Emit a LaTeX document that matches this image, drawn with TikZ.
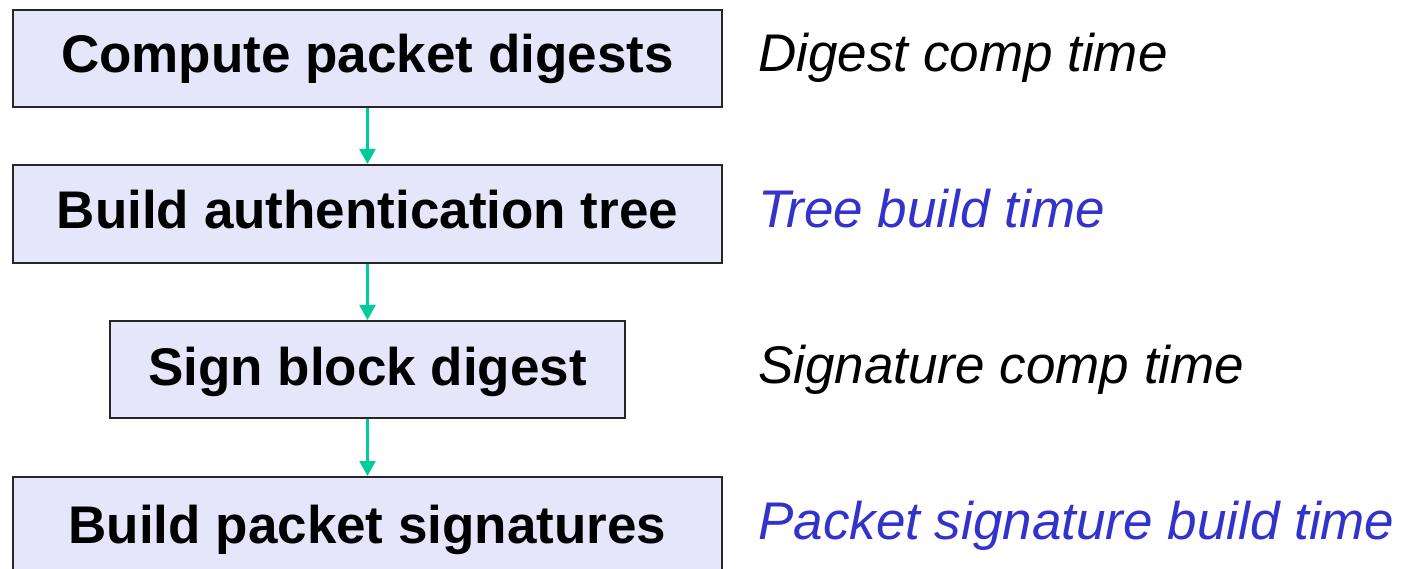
\documentclass[tikz,border=0pt]{standalone}
\usepackage{fontspec}
\setmainfont{Liberation Sans}
\usetikzlibrary{arrows.meta}
\definecolor{boxfill}{HTML}{E6E6FA}
\definecolor{arrowc}{HTML}{00CC99}
\definecolor{bluetxt}{HTML}{3333CC}
\tikzset{
  stepbox/.style={draw=black!85, line width=2pt, fill=boxfill, font=\fontsize{53}{53}\selectfont\bfseries, anchor=north west, inner xsep=0pt, inner ysep=0pt, align=center, text height=64pt, text depth=34pt},
  timelabel/.style={anchor=base west, font=\fontsize{53}{53}\selectfont\itshape, inner sep=0pt},
  flow/.style={draw=arrowc, line width=2.2pt, -{Triangle[length=15pt,width=16pt,fill=arrowc]}}
}
\begin{document}
\begin{tikzpicture}[x=1pt,y=-1pt]
\useasboundingbox (0,0) rectangle (1401,569);
\node[stepbox, minimum width=709pt, text height=63pt, text depth=34pt] (b1) at (12,9) {Compute packet digests};
\node[stepbox, minimum width=709pt] (b2) at (12,164) {Build authentication tree};
\node[stepbox, minimum width=515pt, text height=64pt, text depth=33pt] (b3) at (109,320) {Sign block digest};
\node[stepbox, minimum width=709pt, text height=66pt, text depth=32pt] (b4) at (12,476) {Build packet signatures};
\draw[flow] (b1.south) -- (b2.north);
\draw[flow] (b2.south) -- (b3.north);
\draw[flow] (b3.south) -- (b4.north);
\node[timelabel] (t1) at (758,72) {Digest comp time};
\node[timelabel, text=bluetxt] (t2) at (758,228) {Tree build time};
\node[timelabel] (t3) at (758,384) {Signature comp time};
\node[timelabel, text=bluetxt] (t4) at (758,539) {Packet signature build time};
\end{tikzpicture}
\end{document}
